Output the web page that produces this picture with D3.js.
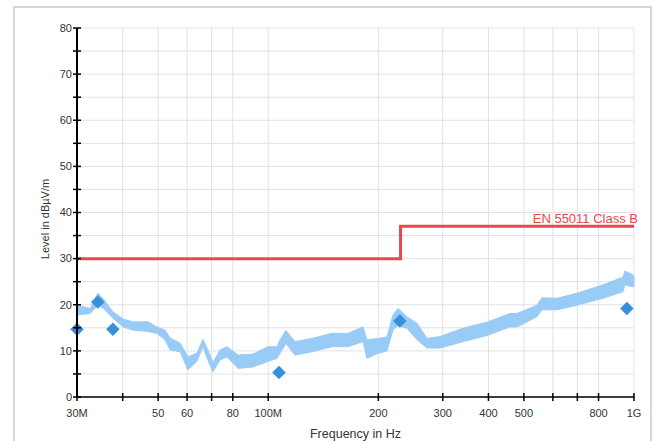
<!DOCTYPE html>
<html>
<head>
<meta charset="utf-8">
<script src="https://cdn.jsdelivr.net/npm/d3@7"></script>
<style>
  html, body { margin: 0; padding: 0; background: #fff; }
  svg { display: block; font-family: Arial, "Liberation Sans", sans-serif; }
</style>
</head>
<body>
<div id="chart"></div>
<script>
// frequencies in MHz, levels in dBuV/m
const traceFreq = [30, 32.6, 34.2, 35.3, 37.6, 40.1, 42.7, 46.9, 49.6, 52.2, 53.9, 57.4, 60.3, 63.8, 66.3, 68.4, 70.6, 73.8, 77.1, 82.7, 90.8, 99.8, 105.7, 107.7, 111.8, 118.3, 131.7, 149.4, 165.2, 181.6, 186.2, 199.5, 211.2, 219.3, 226.3, 239.5, 255.1, 271.6, 294.8, 340.7, 398.8, 458, 478.6, 542.8, 560, 615.6, 698, 822, 933, 944, 993, 1000];
const traceLow  = [17.8, 18.1, 19.9, 19.3, 17.1, 15.2, 14.5, 14.2, 13.8, 12.4, 10.2, 9.8, 5.9, 7.7, 10.9, 8.0, 5.5, 8.0, 8.7, 6.2, 6.5, 7.7, 8.4, 9.5, 11.6, 9.1, 9.8, 10.9, 10.9, 12.0, 8.4, 9.5, 10.0, 14.5, 15.5, 14.9, 12.4, 10.6, 10.6, 12.0, 13.4, 15.2, 15.2, 17.4, 18.9, 18.9, 19.9, 21.4, 22.8, 24.3, 23.9, 24.0];
const traceHigh = [19.9, 19.2, 22.5, 21.4, 18.5, 16.9, 16.3, 16.3, 15.2, 14.5, 12.8, 11.7, 8.7, 9.5, 12.5, 10.2, 7.4, 10.2, 10.9, 9.1, 9.3, 10.9, 10.9, 12.4, 14.4, 12.0, 12.7, 13.8, 13.8, 15.2, 12.4, 12.7, 13.0, 17.8, 19.2, 17.4, 16.0, 12.7, 13.1, 14.9, 16.3, 18.1, 18.1, 19.9, 21.5, 21.4, 22.5, 24.3, 26.0, 27.3, 26.5, 26.0];

const peakFreq  = [30, 34.2, 37.6, 107, 229, 956];
const peakLevel = [14.7, 20.6, 14.7, 5.3, 16.5, 19.2];

const limitFreq  = [30, 230, 230, 1000];
const limitLevel = [30, 30, 37, 37];
const limitName = 'EN 55011 Class B';

const xTicks = [30, 40, 50, 60, 70, 80, 100, 200, 300, 400, 500, 600, 700, 800, 1000];
const xTickLabels = ['30M', '', '50', '60', '', '80', '100M', '200', '300', '400', '500', '', '', '800', '1G'];
const yTicks = [0, 10, 20, 30, 40, 50, 60, 70, 80];
const yMinorTicks = [5, 15, 25, 35, 45, 55, 65, 75];

const W = 661, H = 441;
const plotL = 77, plotR = 634, plotT = 28, plotB = 397;

const svg = d3.select('#chart').append('svg')
  .attr('width', W)
  .attr('height', H);

// frame
svg.append('rect')
  .attr('x', 14).attr('y', 7)
  .attr('width', 637).attr('height', 445)
  .attr('fill', '#fff')
  .attr('stroke', '#c9c9c9')
  .attr('stroke-width', 1.5);

const x = d3.scaleLog().domain([30, 1000]).range([plotL, plotR]);
const y = d3.scaleLinear().domain([0, 80]).range([plotB, plotT]);

// grid
const grid = svg.append('g').attr('stroke', '#e2e2e2').attr('stroke-width', 1);
grid.selectAll('line.h')
  .data(yTicks.concat(yMinorTicks))
  .join('line')
  .attr('class', 'h')
  .attr('x1', plotL).attr('x2', plotR)
  .attr('y1', d => y(d)).attr('y2', d => y(d));
grid.selectAll('line.v')
  .data(xTicks)
  .join('line')
  .attr('class', 'v')
  .attr('x1', d => x(d)).attr('x2', d => x(d))
  .attr('y1', plotT).attr('y2', plotB);

// measured trace (envelope)
const trace = traceFreq.map((f, i) => ({ f, lo: traceLow[i], hi: traceHigh[i] }));
svg.append('path')
  .datum(trace)
  .attr('fill', '#99cbf7')
  .attr('stroke', '#99cbf7')
  .attr('stroke-width', 1)
  .attr('d', d3.area()
    .x(d => x(d.f))
    .y0(d => y(d.lo))
    .y1(d => y(d.hi)));

// limit line
const limit = limitFreq.map((f, i) => ({ f, v: limitLevel[i] }));
svg.append('path')
  .datum(limit)
  .attr('fill', 'none')
  .attr('stroke', '#e8474d')
  .attr('stroke-width', 3)
  .attr('d', d3.line().x(d => x(d.f)).y(d => y(d.v)));

svg.append('text')
  .attr('x', plotR + 4)
  .attr('y', y(37) - 3)
  .attr('text-anchor', 'end')
  .attr('fill', '#e8474d')
  .attr('font-size', 13)
  .text(limitName);

// peaks
const diamond = d3.symbol().type(d3.symbolSquare).size(92);
svg.selectAll('path.peak')
  .data(peakFreq.map((f, i) => ({ f, v: peakLevel[i] })))
  .join('path')
  .attr('class', 'peak')
  .attr('fill', '#3a8fd9')
  .attr('d', diamond)
  .attr('transform', d => `translate(${x(d.f)},${y(d.v)}) rotate(45)`);

// y axis
const yAxis = svg.append('g').attr('transform', `translate(${plotL},0)`);
yAxis.append('line')
  .attr('x1', 0).attr('x2', 0)
  .attr('y1', plotT).attr('y2', plotB)
  .attr('stroke', '#000').attr('stroke-width', 2);
yAxis.selectAll('line.tk')
  .data(yTicks.concat(yMinorTicks))
  .join('line')
  .attr('class', 'tk')
  .attr('x1', -4).attr('x2', 4)
  .attr('y1', d => y(d)).attr('y2', d => y(d))
  .attr('stroke', '#000').attr('stroke-width', 1.5);
yAxis.selectAll('text')
  .data(yTicks)
  .join('text')
  .attr('x', -5)
  .attr('y', d => y(d))
  .attr('dy', '0.35em')
  .attr('text-anchor', 'end')
  .attr('font-size', 11)
  .attr('fill', '#333')
  .text(d => d);

// x axis
const xAxis = svg.append('g').attr('transform', `translate(0,${plotB})`);
xAxis.append('line')
  .attr('x1', plotL).attr('x2', plotR)
  .attr('y1', 0).attr('y2', 0)
  .attr('stroke', '#000').attr('stroke-width', 1.5);
xAxis.selectAll('line.tk')
  .data(xTicks)
  .join('line')
  .attr('class', 'tk')
  .attr('x1', d => x(d)).attr('x2', d => x(d))
  .attr('y1', -4).attr('y2', 4)
  .attr('stroke', '#000').attr('stroke-width', 1.5);
xAxis.selectAll('text')
  .data(xTicks)
  .join('text')
  .attr('x', d => x(d))
  .attr('y', 16)
  .attr('dy', '0.35em')
  .attr('text-anchor', 'middle')
  .attr('font-size', 11)
  .attr('fill', '#333')
  .text((d, i) => xTickLabels[i]);

// axis titles
svg.append('text')
  .attr('x', (plotL + plotR) / 2)
  .attr('y', 438)
  .attr('text-anchor', 'middle')
  .attr('font-size', 12.5)
  .attr('fill', '#333')
  .text('Frequency in Hz');

svg.append('text')
  .attr('transform', `translate(49,219) rotate(-90)`)
  .attr('text-anchor', 'middle')
  .attr('font-size', 11)
  .attr('fill', '#333')
  .text('Level in dBµV/m');
</script>
</body>
</html>
